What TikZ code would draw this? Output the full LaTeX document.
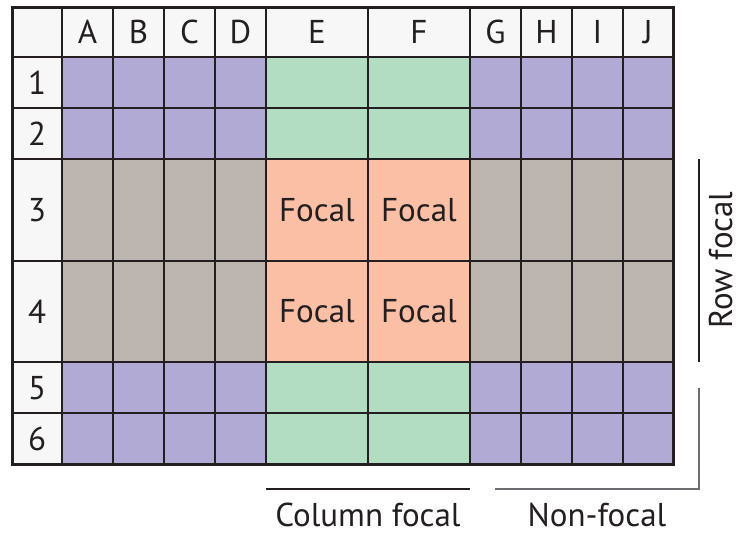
\documentclass[tikz,border=0pt]{standalone}
\usepackage{fontspec}
\setmainfont{PT Sans}
\definecolor{ink}{HTML}{231F20}
\definecolor{cpurple}{HTML}{B0AAD4}
\definecolor{cgreen}{HTML}{B2DDC2}
\definecolor{csalmon}{HTML}{FBBFA5}
\definecolor{cgray}{HTML}{BDB5B0}
\definecolor{chead}{HTML}{F7F7F7}
\definecolor{cbrk}{HTML}{6D6E71}
\colorlet{fillnn}{cpurple}
\colorlet{fillfn}{cgreen}
\colorlet{fillnf}{cgray}
\colorlet{fillff}{csalmon}
\def\txtnn{}\def\txtfn{}\def\txtnf{}\def\txtff{Focal}
\tikzset{
  cell/.style={draw=ink, line width=2pt, inner sep=0pt, outer sep=0pt, rectangle},
  lab/.style={font=\fontsize{33}{33}\selectfont, text=ink, inner sep=0pt, anchor=base},
  brk/.style={draw=ink, line width=1.5pt},
  brkg/.style={draw=cbrk, line width=1.5pt},
}
\begin{document}
\begin{tikzpicture}[x=1pt,y=-1pt]
\useasboundingbox (0,0) rectangle (741,535);
% body cells
\foreach \c/\xa/\xb/\ct in {A/62/113/n,B/113/164/n,C/164/215/n,D/215/266/n,E/266/368/f,F/368/470/f,G/470/521/n,H/521/572/n,I/572/623/n,J/623/673/n}{
  \foreach \r/\ya/\yb/\rt in {1/57/108/n,2/108/159/n,3/159/261/f,4/261/362/f,5/362/413/n,6/413/464/n}{
    \node[cell, fill=fill\ct\rt, minimum width={(\xb-\xa)*1pt}, minimum height={(\yb-\ya)*1pt}]
      (c\c\r) at ({(\xa+\xb)/2},{(\ya+\yb)/2}) {};
    \node[lab] (t\c\r) at ({(\xa+\xb)/2},{(\ya+\yb)/2+11}) {\csname txt\ct\rt\endcsname};
  }
}
% header row
\node[cell, fill=chead, minimum width=50pt, minimum height=49pt] (corner) at (37,32.5) {};
\foreach \c/\xa/\xb in {A/62/113,B/113/164,C/164/215,D/215/266,E/266/368,F/368/470,G/470/521,H/521/572,I/572/623,J/623/673}{
  \node[cell, fill=chead, minimum width={(\xb-\xa)*1pt}, minimum height=49pt] (h\c) at ({(\xa+\xb)/2},32.5) {};
  \node[lab] (ht\c) at ({(\xa+\xb)/2},44) {\c};
}
% header column
\foreach \r/\ya/\yb in {1/57/108,2/108/159,3/159/261,4/261/362,5/362/413,6/413/464}{
  \node[cell, fill=chead, minimum width=50pt, minimum height={(\yb-\ya)*1pt}] (h\r) at (37,{(\ya+\yb)/2}) {};
  \node[lab] (hr\r) at (37,{(\ya+\yb)/2+11.5}) {\r};
}
% outer border
\draw[ink, line width=3pt] (corner.north west) rectangle (cJ6.south east);
% brackets
\coordinate (rfa) at (699,159);
\coordinate (rfb) at (699,362);
\draw[brk] (rfa) -- (rfb);
\coordinate (cfa) at (266,489);
\coordinate (cfb) at (470,489);
\draw[brk] (cfa) -- (cfb);
\coordinate (nfa) at (495,489);
\coordinate (nfc) at (699,489);
\coordinate (nfb) at (699,388);
\draw[brkg] (nfa) -- (nfc) -- (nfb);
\node[lab] (colfocal) at (368,526) {Column focal};
\node[lab] (nonfocal) at (597,526) {Non-focal};
\node[lab, rotate=90] (rowfocal) at (732,260) {Row focal};
\end{tikzpicture}
\end{document}
